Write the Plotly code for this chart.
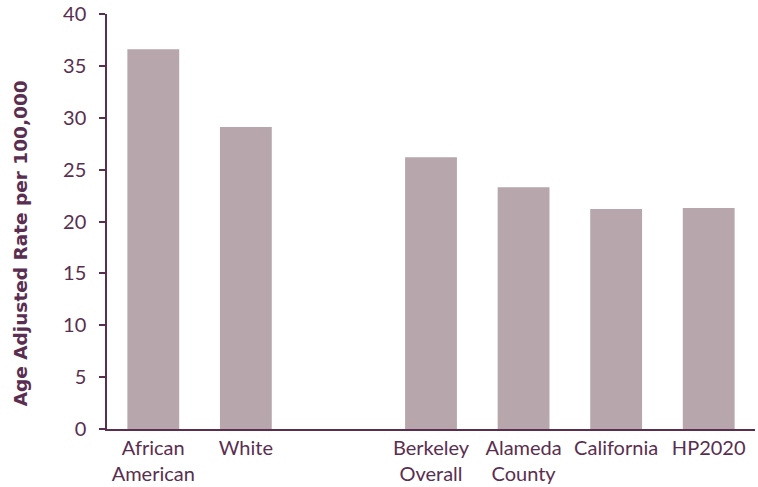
import plotly.graph_objects as go

categories = ["African<br>American", "White", " ", "Berkeley<br>Overall",
              "Alameda<br>County", "California", "HP2020"]
values = [36.6, 29.1, None, 26.2, 23.3, 21.2, 21.3]
y_ticks = [0, 5, 10, 15, 20, 25, 30, 35, 40]

bar_color = "#b7a6ab"
ink = "#5a2e50"
font_family = "Lato, 'Noto Sans', sans-serif"
title_family = "'DejaVu Sans', 'Open Sans', sans-serif"

fig = go.Figure(go.Bar(
    x=categories, y=values,
    marker=dict(color=bar_color, line=dict(width=0)),
    hoverinfo="x+y",
))

fig.update_layout(
    width=758, height=487,
    margin=dict(l=107, r=3, t=14, b=58, autoexpand=False),
    paper_bgcolor="white", plot_bgcolor="white",
    bargap=0.44,
    showlegend=False,
    font=dict(family=font_family, color=ink, size=20),
    xaxis=dict(
        type="category", categoryorder="array", categoryarray=categories,
        showline=True, linecolor=ink, linewidth=1.5,
        ticks="", showgrid=False, zeroline=False, automargin=False,
        tickfont=dict(size=20, color=ink),
    ),
    yaxis=dict(
        range=[0, 40], tickvals=y_ticks,
        showline=True, linecolor=ink, linewidth=1.5,
        ticks="outside", ticklen=6, tickcolor=ink, tickwidth=1.5,
        showgrid=False, zeroline=False, automargin=False,
        tickfont=dict(size=20, color=ink),
        ticklabelstandoff=9,
        ticklabeloverflow="allow",
    ),
    annotations=[dict(
        text="<b>Age Adjusted Rate per 100,000</b>",
        xref="paper", yref="paper", x=-0.134, y=0.448,
        xanchor="center", yanchor="middle", textangle=-90,
        showarrow=False, font=dict(size=18.5, color=ink, family=title_family),
    )],
)

fig.write_html("out.html", config={"displayModeBar": False},
               post_script="document.body.style.margin='0';")
